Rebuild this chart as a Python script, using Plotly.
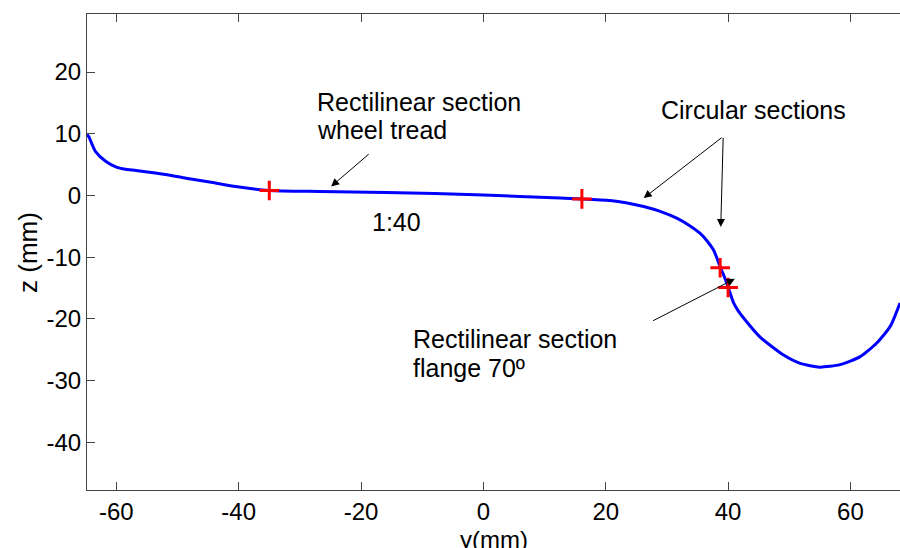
import plotly.graph_objects as go

# Wheel profile (y, z) in mm
profile_y = [-64.8, -64.5, -63.4, -61.7, -60.0, -58.5, -56.8, -52.0, -48.6, -44.0, -40.5, -35.0,
             -26.8, -15.9, 0.0, 12.5, 16.1, 20.7, 23.5, 26.2, 29.0, 31.6, 33.6, 35.4, 36.6, 37.6,
             38.2, 38.7, 39.4, 40.0, 40.4, 40.9, 41.6, 42.5, 45.2, 49.0, 51.8, 55.0, 58.3, 61.6, 64.3, 66.5, 68.1]
profile_z = [9.9, 9.5, 7.1, 5.5, 4.6, 4.25, 4.05, 3.4, 2.8, 2.05, 1.46, 0.81,
             0.65, 0.49, 0.1, -0.42, -0.55, -0.8, -1.2, -1.78, -2.6, -3.66, -4.8, -6.1, -7.4, -8.8,
             -10.2, -11.6, -13.2, -14.8, -16.0, -17.4, -18.6, -19.8, -22.9, -25.8, -27.2, -27.8, -27.4, -26.1, -23.9, -21.2, -17.4]

# Section boundary points
mark_y = [-35.0, 16.1, 38.7, 40.0]
mark_z = [0.81, -0.55, -11.7, -14.9]

x_ticks = [-60, -40, -20, 0, 20, 40, 60]
y_ticks = [-40, -30, -20, -10, 0, 10, 20]

FONT = "Liberation Sans, Arial, Helvetica, sans-serif"

fig = go.Figure()
fig.add_trace(go.Scatter(x=profile_y, y=profile_z, mode="lines",
                         line=dict(color="#0000ff", width=3, shape="spline", smoothing=0.6),
                         showlegend=False, hoverinfo="skip"))
fig.add_trace(go.Scatter(x=mark_y, y=mark_z, mode="markers",
                         marker=dict(symbol="cross-thin", size=14, line=dict(color="#ff0000", width=3)),
                         showlegend=False, hoverinfo="skip"))

texts = [
    ("Rectilinear section", -27.5, 15.2),
    ("wheel tread", -27.5, 10.6),
    ("1:40", -18.6, -4.3),
    ("Circular sections", 28.7, 13.8),
    ("Rectilinear section", -11.8, -23.3),
    ("flange 70º", -11.8, -27.9),
]
for t, x, y in texts:
    fig.add_annotation(x=x, y=y, xref="x", yref="y", text=t, showarrow=False,
                       xanchor="left", yanchor="middle",
                       font=dict(family=FONT, size=25, color="black"))

arrows = [
    # (head_x, head_y, tail_x, tail_y)
    (-24.9, 1.46, -18.5, 6.9),
    (26.2, -0.42, 39.2, 9.56),
    (38.8, -5.1, 39.2, 9.56),
    (41.1, -13.5, 27.5, -20.4),
]
for hx, hy, tx, ty in arrows:
    fig.add_annotation(x=hx, y=hy, ax=tx, ay=ty, xref="x", yref="y", axref="x", ayref="y",
                       text="", showarrow=True, arrowhead=2, arrowsize=1.6, arrowwidth=1,
                       arrowcolor="black", standoff=0)

# Axis titles
fig.add_annotation(x=0.5, y=-0.071, xref="paper", yref="paper", text="y(mm)", showarrow=False,
                   xanchor="center", yanchor="top", font=dict(family=FONT, size=24, color="black"))
fig.add_annotation(x=-0.0726, y=0.5, xref="paper", yref="paper", text="z (mm)", showarrow=False,
                   textangle=-90, xanchor="center", yanchor="middle",
                   font=dict(family=FONT, size=26, color="black"))

fig.update_xaxes(range=[-64.8, 68.1], tickvals=x_ticks, ticktext=[str(v) for v in x_ticks],
                 ticks="inside", ticklen=8, tickcolor="#444", showline=True, linecolor="#444",
                 linewidth=1, mirror="ticks", showgrid=False, zeroline=False, automargin=False,
                 tickfont=dict(family=FONT, size=24, color="black"))
fig.update_yaxes(range=[-47.7, 29.4], tickvals=y_ticks, ticktext=[str(v) for v in y_ticks],
                 ticks="inside", ticklen=8, tickcolor="#444", showline=True, linecolor="#444",
                 linewidth=1, mirror=False, showgrid=False, zeroline=False, automargin=False,
                 tickfont=dict(family=FONT, size=24, color="black"))

fig.update_layout(width=900, height=548, margin=dict(l=87, r=0, t=14, b=58),
                  plot_bgcolor="white", paper_bgcolor="white")

fig.write_html("out.html", config={"displayModeBar": False},
               post_script="document.body.style.margin='0';document.body.style.overflow='hidden';")
